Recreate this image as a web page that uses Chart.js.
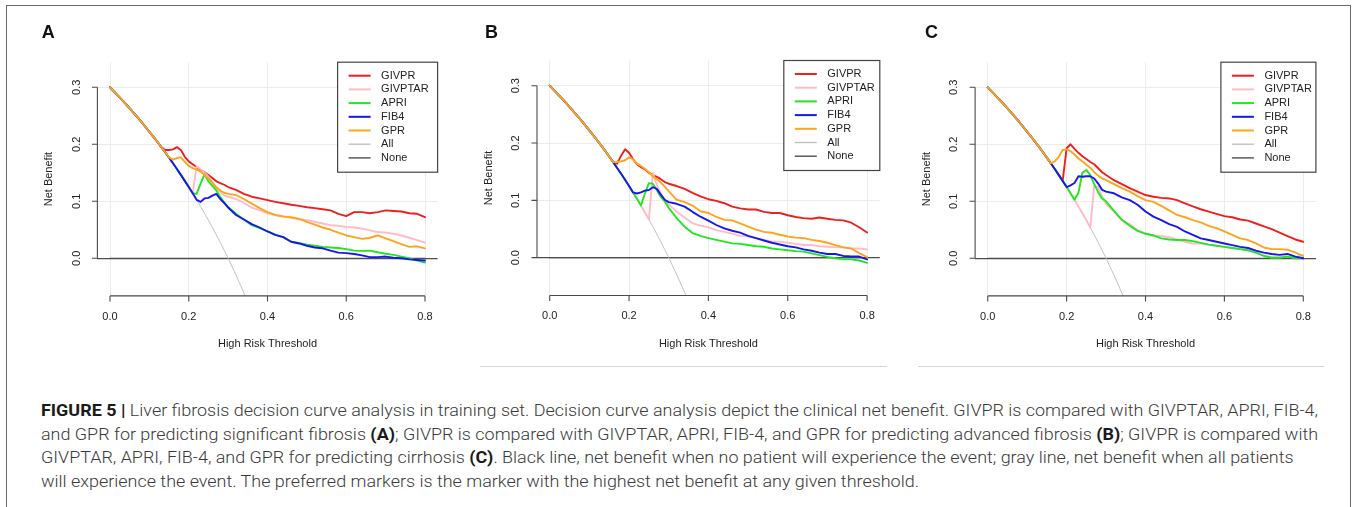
<!DOCTYPE html>
<html>
<head>
<meta charset="utf-8">
<script src="https://cdn.jsdelivr.net/npm/chart.js@4.4.1/dist/chart.umd.min.js"></script>
<style>
html,body{margin:0;padding:0;background:#fff;}
body{width:1357px;height:507px;position:relative;overflow:hidden;font-family:"Liberation Sans",Arial,sans-serif;}
#frame{position:absolute;left:6.3px;top:5.3px;width:1345.2px;height:530px;border:1.5px solid #6a6a6a;box-sizing:border-box;}
canvas{position:absolute;}
.sep{position:absolute;top:366px;height:0;border-top:1.5px solid #d4d4d4;}
#caption{position:absolute;left:41px;top:399px;font-size:17px;line-height:23.6px;font-weight:300;
  font-family:Roboto,"Liberation Sans",Arial,sans-serif;
  color:#3a3a3a;white-space:nowrap;transform-origin:0 0;}
#caption b{color:#1a1a1a;font-weight:700;}
</style>
</head>
<body>
<div id="frame"></div>
<canvas id="cA" width="440" height="357" style="left:10px;top:8px;"></canvas>
<canvas id="cB" width="440" height="357" style="left:452px;top:8px;"></canvas>
<canvas id="cC" width="440" height="357" style="left:892px;top:8px;"></canvas>
<div class="sep" style="left:480px;width:407px;"></div>
<div class="sep" style="left:918px;width:406px;"></div>
<div id="caption">
<div><span id="cl1"><b>FIGURE 5 |</b> Liver fibrosis decision curve analysis in training set. Decision curve analysis depict the clinical net benefit. GIVPR is compared with GIVPTAR, APRI, FIB-4,</span></div>
<div><span>and GPR for predicting significant fibrosis <b>(A)</b>; GIVPR is compared with GIVPTAR, APRI, FIB-4, and GPR for predicting advanced fibrosis <b>(B)</b>; GIVPR is compared with</span></div>
<div><span>GIVPTAR, APRI, FIB-4, and GPR for predicting cirrhosis <b>(C)</b>. Black line, net benefit when no patient will experience the event; gray line, net benefit when all patients</span></div>
<div><span>will experience the event. The preferred markers is the marker with the highest net benefit at any given threshold.</span></div>
</div>
<script>
// ---------------- DATA ----------------
const thresholds = [0, 0.04, 0.08, 0.12, 0.13, 0.14, 0.15, 0.16, 0.17, 0.18, 0.19, 0.20, 0.21, 0.22, 0.23, 0.24, 0.25, 0.26, 0.27, 0.28, 0.29, 0.30,
  0.32, 0.34, 0.36, 0.38, 0.40, 0.42, 0.44, 0.46, 0.48, 0.50, 0.52, 0.54, 0.56, 0.58, 0.60, 0.62, 0.64, 0.66, 0.68, 0.70, 0.72, 0.74, 0.76, 0.78, 0.80];

const seriesNames = ['GIVPR', 'GIVPTAR', 'APRI', 'FIB4', 'GPR', 'All', 'None'];
const panelLetters = ['A', 'B', 'C'];
const xTicks = [0, 0.2, 0.4, 0.6, 0.8];
const xTickLabels = ['0.0', '0.2', '0.4', '0.6', '0.8'];
const yTicks = [0, 0.1, 0.2, 0.3];
const yTickLabels = ['0.0', '0.1', '0.2', '0.3'];
const xTitle = 'High Risk Threshold';
const yTitle = 'Net Benefit';

// Treat all (gray) line, same in every panel
const treatAll = [0.300, 0.2708, 0.2391, 0.2045, 0.1954, 0.1860, 0.1765, 0.1667, 0.1566, 0.1463, 0.1358, 0.1250, 0.1139, 0.1026, 0.0909, 0.0789, 0.0667, 0.0541, 0.0411, 0.0278, 0.0141, 0.0000,
  -0.0294, -0.0606, -0.0938, null, null, null, null, null, null, null, null, null, null, null, null, null, null, null, null, null, null, null, null, null, null];
// Treat none (black) line
const noneThresholds = [0, 0.8];
const noneNB = [0, 0];

// Panel A: significant fibrosis
const a_givpr = [0.300, 0.2708, 0.2391, 0.2045, 0.1954, 0.190, 0.190, 0.191, 0.195, 0.190, 0.178, 0.170, 0.165, 0.160, 0.155, 0.151, 0.146, 0.141, 0.135, 0.132, 0.129, 0.125,
  0.120, 0.113, 0.108, 0.105, 0.102, 0.099, 0.0965, 0.094, 0.092, 0.0895, 0.088, 0.086, 0.084, 0.078, 0.074, 0.081, 0.081, 0.079, 0.081, 0.084, 0.083, 0.082, 0.079, 0.078, 0.072];
const a_givptar = [0.300, 0.2708, 0.2391, 0.2045, 0.1954, 0.1860, 0.1765, 0.1667, 0.1566, 0.1463, 0.1358, 0.1250, 0.1139, 0.162, 0.156, 0.150, 0.143, 0.132, 0.123, 0.116, 0.110, 0.108,
  0.104, 0.097, 0.089, 0.084, 0.079, 0.076, 0.074, 0.071, 0.069, 0.067, 0.064, 0.061, 0.058, 0.057, 0.055, 0.054, 0.052, 0.049, 0.046, 0.045, 0.043, 0.040, 0.036, 0.032, 0.0275];
const a_apri = [0.300, 0.2708, 0.2391, 0.2045, 0.1954, 0.1860, 0.1765, 0.1667, 0.1566, 0.1463, 0.1358, 0.1250, 0.1139, 0.113, 0.131, 0.147, 0.135, 0.127, 0.119, 0.108, 0.098, 0.090,
  0.078, 0.068, 0.058, 0.053, 0.047, 0.041, 0.037, 0.029, 0.027, 0.024, 0.022, 0.020, 0.019, 0.018, 0.016, 0.0135, 0.013, 0.0135, 0.0105, 0.008, 0.006, 0.003, 0.0, -0.004, -0.0076];
const a_fib4 = [0.300, 0.2708, 0.2391, 0.2045, 0.1954, 0.1860, 0.1765, 0.1667, 0.1566, 0.1463, 0.1358, 0.1250, 0.1139, 0.1026, 0.099, 0.105, 0.106, 0.110, 0.113, 0.104, 0.097, 0.089,
  0.076, 0.068, 0.060, 0.054, 0.047, 0.041, 0.037, 0.029, 0.026, 0.022, 0.019, 0.0175, 0.0135, 0.010, 0.009, 0.0076, 0.005, 0.002, 0.002, 0.003, 0.001, 0.0, -0.002, -0.003, -0.004];
const a_gpr = [0.300, 0.2708, 0.2391, 0.2045, 0.1954, 0.186, 0.177, 0.173, 0.176, 0.177, 0.169, 0.162, 0.158, 0.156, 0.152, 0.146, 0.140, 0.133, 0.125, 0.119, 0.115, 0.113,
  0.111, 0.104, 0.096, 0.088, 0.081, 0.076, 0.073, 0.072, 0.069, 0.064, 0.059, 0.054, 0.050, 0.045, 0.040, 0.037, 0.034, 0.036, 0.040, 0.035, 0.030, 0.025, 0.020, 0.021, 0.0175];

// Panel B: advanced fibrosis
const b_givpr = [0.300, 0.2708, 0.2391, 0.2045, 0.1954, 0.1860, 0.1765, 0.1667, 0.164, 0.178, 0.189, 0.183, 0.172, 0.163, 0.158, 0.154, 0.148, 0.144, 0.141, 0.137, 0.132, 0.129,
  0.125, 0.120, 0.113, 0.107, 0.102, 0.099, 0.095, 0.089, 0.086, 0.084, 0.084, 0.080, 0.078, 0.078, 0.074, 0.071, 0.069, 0.068, 0.070, 0.068, 0.066, 0.065, 0.061, 0.053, 0.044];
const b_givptar = [0.300, 0.2708, 0.2391, 0.2045, 0.1954, 0.1860, 0.1765, 0.1667, 0.1566, 0.1463, 0.1358, 0.1250, 0.1139, 0.1026, 0.0909, 0.0789, 0.0667, 0.148, 0.127, 0.112, 0.100, 0.093,
  0.080, 0.070, 0.060, 0.056, 0.053, 0.048, 0.045, 0.042, 0.038, 0.037, 0.034, 0.031, 0.028, 0.028, 0.026, 0.024, 0.022, 0.022, 0.020, 0.019, 0.018, 0.018, 0.016, 0.016, 0.0145];
const b_apri = [0.300, 0.2708, 0.2391, 0.2045, 0.1954, 0.1860, 0.1765, 0.1667, 0.1566, 0.1463, 0.1358, 0.1250, 0.1139, 0.1026, 0.0909, 0.112, 0.130, 0.129, 0.118, 0.106, 0.098, 0.087,
  0.069, 0.054, 0.043, 0.038, 0.034, 0.031, 0.028, 0.025, 0.024, 0.022, 0.020, 0.019, 0.016, 0.0145, 0.013, 0.0115, 0.0105, 0.0075, 0.0045, 0.0015, -0.001, -0.003, -0.003, -0.005, -0.009];
const b_fib4 = [0.300, 0.2708, 0.2391, 0.2045, 0.1954, 0.1860, 0.1765, 0.1667, 0.1566, 0.1463, 0.1358, 0.1250, 0.1139, 0.112, 0.114, 0.117, 0.118, 0.123, 0.120, 0.110, 0.101, 0.097,
  0.094, 0.089, 0.080, 0.0715, 0.0645, 0.057, 0.051, 0.047, 0.0436, 0.038, 0.034, 0.030, 0.026, 0.023, 0.020, 0.018, 0.0145, 0.012, 0.0087, 0.0064, 0.0064, 0.003, 0.002, 0.002, -0.003];
const b_gpr = [0.300, 0.2708, 0.2391, 0.2045, 0.1954, 0.1860, 0.1765, 0.1667, 0.167, 0.168, 0.170, 0.175, 0.172, 0.164, 0.160, 0.155, 0.149, 0.142, 0.137, 0.131, 0.124, 0.116,
  0.101, 0.097, 0.091, 0.081, 0.078, 0.071, 0.066, 0.065, 0.060, 0.054, 0.049, 0.045, 0.0435, 0.040, 0.037, 0.035, 0.034, 0.031, 0.029, 0.026, 0.022, 0.018, 0.016, 0.008, 0.001];

// Panel C: cirrhosis
const c_givpr = [0.300, 0.2708, 0.2391, 0.2045, 0.1954, 0.1860, 0.1765, 0.1667, 0.1566, 0.1463, 0.1358, 0.193, 0.200, 0.192, 0.185, 0.179, 0.174, 0.169, 0.165, 0.158, 0.151, 0.146,
  0.137, 0.130, 0.123, 0.117, 0.111, 0.108, 0.106, 0.105, 0.102, 0.0965, 0.091, 0.086, 0.082, 0.078, 0.074, 0.072, 0.068, 0.066, 0.061, 0.056, 0.051, 0.045, 0.039, 0.033, 0.029];
const c_givptar = [0.300, 0.2708, 0.2391, 0.2045, 0.1954, 0.1860, 0.1765, 0.1667, 0.1566, 0.1463, 0.1358, 0.1250, 0.1139, 0.1026, 0.0909, 0.0789, 0.0667, 0.0541, 0.128, 0.125, 0.108, 0.095,
  0.082, 0.066, 0.060, 0.049, 0.044, 0.040, 0.039, 0.037, 0.033, 0.029, 0.026, 0.026, 0.024, 0.022, 0.020, 0.018, 0.016, 0.014, 0.011, 0.005, 0.002, 0.002, 0.003, 0.002, 0.006];
const c_apri = [0.300, 0.2708, 0.2391, 0.2045, 0.1954, 0.1860, 0.1765, 0.1667, 0.1566, 0.1463, 0.1358, 0.1250, 0.1139, 0.1026, 0.115, 0.150, 0.155, 0.146, 0.130, 0.116, 0.105, 0.100,
  0.083, 0.068, 0.057, 0.048, 0.043, 0.040, 0.035, 0.033, 0.032, 0.032, 0.030, 0.027, 0.024, 0.022, 0.020, 0.018, 0.016, 0.014, 0.010, 0.004, 0.001, 0.001, 0.003, 0.0, 0.0];
const c_fib4 = [0.300, 0.2708, 0.2391, 0.2045, 0.1954, 0.1860, 0.1765, 0.1667, 0.1566, 0.1463, 0.1358, 0.1250, 0.128, 0.132, 0.144, 0.143, 0.144, 0.144, 0.140, 0.131, 0.120, 0.117,
  0.114, 0.107, 0.102, 0.094, 0.082, 0.073, 0.067, 0.060, 0.055, 0.047, 0.041, 0.035, 0.032, 0.029, 0.026, 0.023, 0.020, 0.018, 0.0135, 0.010, 0.0076, 0.006, 0.0076, 0.003, 0.0];
const c_gpr = [0.300, 0.2708, 0.2391, 0.2045, 0.1954, 0.1860, 0.1765, 0.1667, 0.170, 0.178, 0.190, 0.191, 0.188, 0.182, 0.175, 0.170, 0.164, 0.159, 0.151, 0.145, 0.140, 0.137,
  0.130, 0.123, 0.117, 0.109, 0.102, 0.099, 0.092, 0.084, 0.076, 0.072, 0.067, 0.063, 0.057, 0.053, 0.047, 0.041, 0.035, 0.032, 0.026, 0.019, 0.016, 0.016, 0.015, 0.010, 0.004];

// ---------------- STYLE / LAYOUT ----------------
const seriesColors = ['#f01e1e', '#ffbcc8', '#22e622', '#1717ec', '#ffa41c', '#c2c2c2', '#4d4d4d'];
const seriesWidths = [1.9, 1.9, 1.9, 1.9, 1.9, 1, 1.3];
const seriesOrder = [4, 3, 2, 1, 0, 5, 6]; // GPR drawn on top, like R
const FONT = '"Liberation Sans", Arial, Helvetica, sans-serif';

const panels = [
  { id: 'cA', letter: panelLetters[0], models: [a_givpr, a_givptar, a_apri, a_fib4, a_gpr],
    pad: { left: 87.4, right: 12.4, top: 54.2, bottom: 69.1 }, letterX: 31.7, legendW: 100 },
  { id: 'cB', letter: panelLetters[1], models: [b_givpr, b_givptar, b_apri, b_fib4, b_gpr],
    pad: { left: 85.0, right: 12.2, top: 52.5, bottom: 69.5 }, letterX: 33, legendW: 96 },
  { id: 'cC', letter: panelLetters[2], models: [c_givpr, c_givptar, c_apri, c_fib4, c_gpr],
    pad: { left: 83.1, right: 16.1, top: 54.2, bottom: 69.1 }, letterX: 33, legendW: 95 }
];

const decorPlugin = {
  id: 'decor',
  afterDatasetsDraw(chart) {
    const o = chart.options.plugins.decor;
    const ctx = chart.ctx, ca = chart.chartArea;
    const xs = chart.scales.x, ys = chart.scales.y;
    ctx.save();
    // axes (R style: spanning tick range only)
    ctx.strokeStyle = '#4a4a4a';
    ctx.lineWidth = 1.1;
    ctx.beginPath();
    const yb = ys.getPixelForValue(yTicks[0]), yt = ys.getPixelForValue(yTicks[yTicks.length - 1]);
    ctx.moveTo(ca.left, yb); ctx.lineTo(ca.left, yt);
    yTicks.forEach(v => { const p = ys.getPixelForValue(v); ctx.moveTo(ca.left, p); ctx.lineTo(ca.left - 5.5, p); });
    const xl = xs.getPixelForValue(xTicks[0]), xr = xs.getPixelForValue(xTicks[xTicks.length - 1]);
    ctx.moveTo(xl, ca.bottom); ctx.lineTo(xr, ca.bottom);
    xTicks.forEach(v => { const p = xs.getPixelForValue(v); ctx.moveTo(p, ca.bottom); ctx.lineTo(p, ca.bottom + 5.5); });
    ctx.stroke();

    ctx.fillStyle = '#222';
    ctx.font = '11px ' + FONT;
    ctx.textAlign = 'center';
    ctx.textBaseline = 'middle';
    xTicks.forEach((v, i) => ctx.fillText(xTickLabels[i], xs.getPixelForValue(v), ca.bottom + 20.8));
    ctx.fillText(xTitle, (ca.left + ca.right) / 2, ca.bottom + 48);
    yTicks.forEach((v, i) => {
      ctx.save();
      ctx.translate(ca.left - 20.7, ys.getPixelForValue(v));
      ctx.rotate(-Math.PI / 2);
      ctx.fillText(yTickLabels[i], 0, 0);
      ctx.restore();
    });
    ctx.save();
    ctx.translate(ca.left - 48.4, (ca.top + ca.bottom) / 2);
    ctx.rotate(-Math.PI / 2);
    ctx.fillText(yTitle, 0, 0);
    ctx.restore();

    // panel letter
    ctx.font = 'bold 18px ' + FONT;
    ctx.textAlign = 'left';
    ctx.textBaseline = 'alphabetic';
    ctx.fillStyle = '#111';
    ctx.fillText(o.letter, o.letterX, 30.3);

    // legend (top right of plot region)
    const lw = o.legendW, lh = 110;
    const lx = ca.right - lw, ly = ca.top;
    ctx.fillStyle = '#fff';
    ctx.fillRect(lx, ly, lw, lh);
    ctx.strokeStyle = '#444';
    ctx.lineWidth = 1.2;
    ctx.strokeRect(lx, ly, lw, lh);
    ctx.font = '11px ' + FONT;
    ctx.textBaseline = 'middle';
    chart.data.datasets.forEach((d, i) => {
      const yy = ly + 13.5 + i * 13.7;
      ctx.strokeStyle = d.borderColor;
      ctx.lineWidth = i >= 5 ? 1.4 : 2;
      ctx.beginPath(); ctx.moveTo(lx + 11, yy); ctx.lineTo(lx + 33, yy); ctx.stroke();
      ctx.fillStyle = '#222';
      ctx.fillText(d.label, lx + 43.5, yy);
    });
    ctx.restore();
  }
};

function toXY(xsArr, ysArr) { return xsArr.map((t, i) => ({ x: t, y: ysArr[i] })); }

panels.forEach(p => {
  const datasets = p.models.map((m, i) => ({
    label: seriesNames[i], data: toXY(thresholds, m),
    borderColor: seriesColors[i], borderWidth: seriesWidths[i], order: seriesOrder[i]
  }));
  datasets.push({ label: seriesNames[5], data: toXY(thresholds, treatAll), borderColor: seriesColors[5], borderWidth: seriesWidths[5], order: seriesOrder[5] });
  datasets.push({ label: seriesNames[6], data: toXY(noneThresholds, noneNB), borderColor: seriesColors[6], borderWidth: seriesWidths[6], order: seriesOrder[6] });
  datasets.forEach(d => { d.pointRadius = 0; d.fill = false; d.tension = 0; d.borderJoinStyle = 'round'; d.borderCapStyle = 'round'; d.spanGaps = false; });

  new Chart(document.getElementById(p.id), {
    type: 'line',
    data: { datasets },
    options: {
      responsive: false, animation: false, devicePixelRatio: 1,
      layout: { padding: p.pad },
      plugins: { legend: { display: false }, tooltip: { enabled: false }, decor: { letter: p.letter, letterX: p.letterX, legendW: p.legendW } },
      scales: {
        x: {
          type: 'linear', min: -0.032, max: 0.832,
          afterBuildTicks: s => { s.ticks = xTicks.map(v => ({ value: v })); },
          afterFit: s => { s.height = 0; },
          ticks: { display: false }, border: { display: false },
          grid: { color: '#ececec', lineWidth: 1, drawTicks: false }
        },
        y: {
          type: 'linear', min: -0.066, max: 0.344,
          afterBuildTicks: s => { s.ticks = yTicks.map(v => ({ value: v })); },
          afterFit: s => { s.width = 0; },
          ticks: { display: false }, border: { display: false },
          grid: { color: c => (c.tick && c.tick.value === 0) ? '#4d4d4d' : '#ececec',
                  lineWidth: c => (c.tick && c.tick.value === 0) ? 1.3 : 1, drawTicks: false }
        }
      }
    },
    plugins: [decorPlugin]
  });
});

// fit caption width to the reference text block
function fitCaption() {
  const cap = document.getElementById('caption');
  cap.style.transform = 'none';
  const w = document.getElementById('cl1').getBoundingClientRect().width;
  if (w > 0) cap.style.transform = 'scaleX(' + (1277 / w) + ')';
}
fitCaption();
if (document.fonts && document.fonts.ready) document.fonts.ready.then(fitCaption);
</script>
</body>
</html>
